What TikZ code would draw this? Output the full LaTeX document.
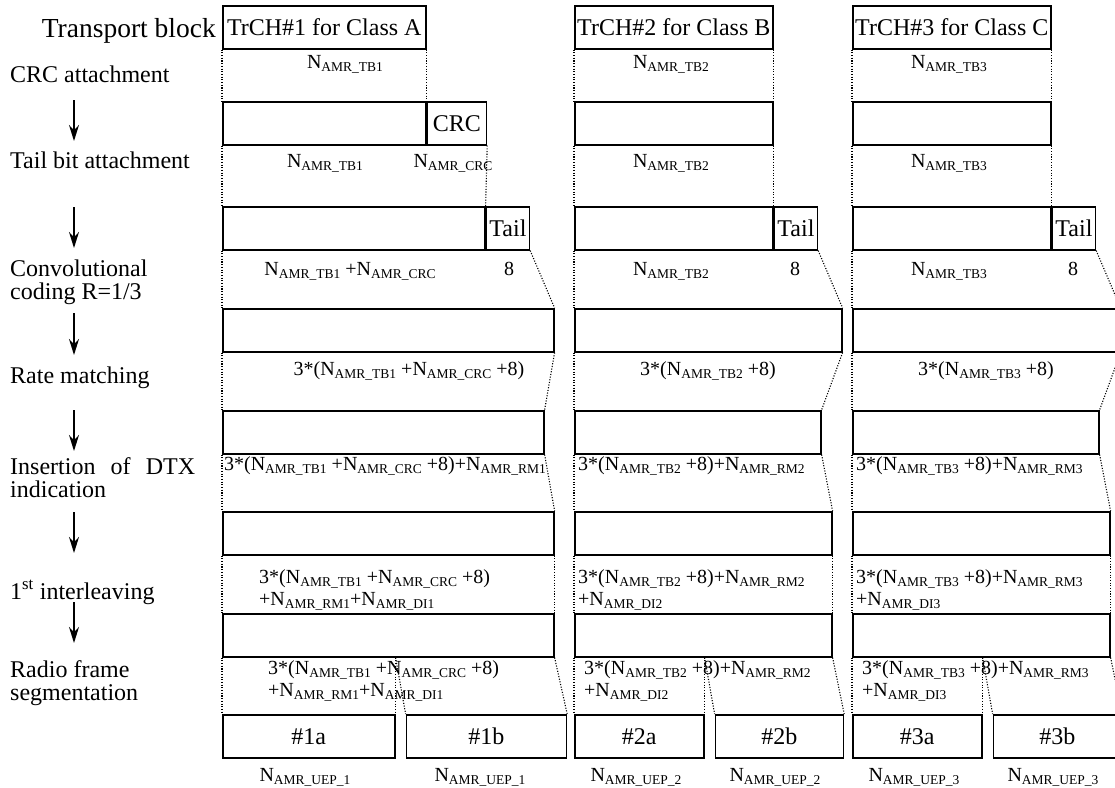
\documentclass[tikz,border=0pt]{standalone}
\usepackage{fontspec}
\setmainfont{Liberation Serif}
\usetikzlibrary{arrows.meta, positioning}

\newcommand{\stepfont}{\fontsize{24}{23}\selectfont}
\newcommand{\tbfont}{\fontsize{27.5}{30}\selectfont}
\newcommand{\labfont}{\fontsize{20}{22}\selectfont}
\newcommand{\subfont}{\fontsize{13.5}{14}\selectfont}
\newcommand{\amr}[1]{N\raisebox{-3.5pt}{\subfont AMR\_#1}}

\begin{document}
\begin{tikzpicture}[
  x=1pt, y=-1pt,
  blk/.style={draw, line width=1.6pt, minimum height=43pt, inner sep=0pt,
              anchor=north west, font=\stepfont},
  stp/.style={inner sep=0pt, anchor=base west, align=left, font=\stepfont},
  lab/.style={inner sep=0pt, anchor=base, font=\labfont},
  labl/.style={lab, anchor=base west, align=left},
  guide/.style={line width=1.1pt, dash pattern=on 1.1pt off 1.6pt},
  flow/.style={-{Stealth[length=16pt, width=10pt]}, line width=1.5pt}
]
\useasboundingbox (0,0) rectangle (1115,787);
\clip (0,0) rectangle (1115,787);

% processing steps
\node[stp, font=\tbfont, anchor=base east] (tblk) at (216,37) {Transport block};
\node[stp] (crcatt) at (10,82) {CRC attachment};
\node[stp] (tailatt) at (10,168) {Tail bit attachment};
\node[stp] (conv) at (10,299) {Convolutional\\coding R=1/3};
\node[stp] (rmatch) at (10,383) {Rate matching};
\node[stp] (dtx) at (10,497) {\makebox[185pt][s]{Insertion of DTX}\\indication};
\node[stp] (ilv) at (10,599) {1\textsuperscript{st} interleaving};
\node[stp] (seg) at (10,700) {Radio frame\\segmentation};

\coordinate (a1) at (74,100); \coordinate (b1) at (74,141);
\coordinate (a2) at (74,207); \coordinate (b2) at (74,248);
\coordinate (a3) at (74,313); \coordinate (b3) at (74,355);
\coordinate (a4) at (74,410); \coordinate (b4) at (74,451);
\coordinate (a5) at (74,512); \coordinate (b5) at (74,553);
\coordinate (a6) at (74,602); \coordinate (b6) at (74,643);
\draw[flow] (a1) -- (b1);
\draw[flow] (a2) -- (b2);
\draw[flow] (a3) -- (b3);
\draw[flow] (a4) -- (b4);
\draw[flow] (a5) -- (b5);
\draw[flow] (a6) -- (b6);

% TrCH#1, class A
\node[blk, minimum width=203pt] (tb1) at (222,5) {TrCH\#1 for Class A};
\node[blk, minimum width=203pt] (crcA1) at (222,101) {};
\node[blk, minimum width=59pt, right=0pt of crcA1] (crc1) {CRC};
\node[blk, minimum width=262pt] (tailA1) at (222,206) {};
\node[blk, minimum width=43pt, right=0pt of tailA1] (tail1) {Tail};
\node[blk, minimum width=331pt] (conv1) at (222,308) {};
\node[blk, minimum width=321pt] (rm1) at (222,410) {};
\node[blk, minimum width=331pt] (dtx1) at (222,511) {};
\node[blk, minimum width=331pt] (il1) at (222,613) {};
\node[blk, minimum width=172pt] (segA1) at (222,714) {\#1a};
\node[blk, minimum width=160pt, right=10pt of segA1] (segB1) {\#1b};

\node[lab] (n0a1) at (345,68) {\amr{TB1}};
\node[lab] (n1a1) at (325,167) {\amr{TB1}};
\node[lab] (n1b1) at (453,167) {\amr{CRC}};
\node[lab] (n2a1) at (350,275) {\amr{TB1} +\amr{CRC}};
\node[lab] (n2b1) at (509,275) {8};
\node[lab] (n3a1) at (409,375) {3*(\amr{TB1} +\amr{CRC} +8)};
\node[lab] (n4a1) at (385,470) {3*(\amr{TB1} +\amr{CRC} +8)+\amr{RM1}};
\node[labl] (n5a1) at (259,605) {3*(\amr{TB1} +\amr{CRC} +8)\\+\amr{RM1}+\amr{DI1}};
\node[labl] (n6a1) at (268,696) {3*(\amr{TB1} +\amr{CRC} +8)\\+\amr{RM1}+\amr{DI1}};
\node[lab] (n7a1) at (305,781) {\amr{UEP\_1}};
\node[lab] (n7b1) at (480,781) {\amr{UEP\_1}};

\draw[guide] (tb1.south west) -- (crcA1.north west);
\draw[guide] (tb1.south east) -- (crcA1.north east);
\draw[guide] (crcA1.south west) -- (tailA1.north west);
\draw[guide] (crc1.south east) -- (tailA1.north east);
\draw[guide] (tailA1.south west) -- (conv1.north west);
\draw[guide] (tail1.south east) -- (conv1.north east);
\draw[guide] (conv1.south west) -- (rm1.north west);
\draw[guide] (conv1.south east) -- (rm1.north east);
\draw[guide] (rm1.south west) -- (dtx1.north west);
\draw[guide] (rm1.south east) -- (dtx1.north east);
\draw[guide] (dtx1.south west) -- (il1.north west);
\draw[guide] (dtx1.south east) -- (il1.north east);
\draw[guide] (il1.south west) -- (segA1.north west);
\draw[guide] (segA1.north east |- il1.south) -- (segA1.north east);
\draw[guide] (segA1.north east |- il1.south) -- (segB1.north west);
\draw[guide] (il1.south east) -- (segB1.north east);

% TrCH#2, class B
\node[blk, minimum width=198pt] (tb2) at (574,5) {TrCH\#2 for Class B};
\node[blk, minimum width=198pt] (crcA2) at (574,101) {};
\node[blk, minimum width=198pt] (tailA2) at (574,206) {};
\node[blk, minimum width=43pt, right=0pt of tailA2] (tail2) {Tail};
\node[blk, minimum width=267pt] (conv2) at (574,308) {};
\node[blk, minimum width=246pt] (rm2) at (574,410) {};
\node[blk, minimum width=257pt] (dtx2) at (574,511) {};
\node[blk, minimum width=257pt] (il2) at (574,613) {};
\node[blk, minimum width=129pt] (segA2) at (574,714) {\#2a};
\node[blk, minimum width=128pt, right=10pt of segA2] (segB2) {\#2b};

\node[lab] (n0a2) at (671,68) {\amr{TB2}};
\node[lab] (n1a2) at (671,167) {\amr{TB2}};
\node[lab] (n2a2) at (671,275) {\amr{TB2}};
\node[lab] (n2b2) at (795,275) {8};
\node[lab] (n3a2) at (708,375) {3*(\amr{TB2} +8)};
\node[labl] (n4a2) at (578,470) {3*(\amr{TB2} +8)+\amr{RM2}};
\node[labl] (n5a2) at (578,605) {3*(\amr{TB2} +8)+\amr{RM2}\\+\amr{DI2}};
\node[labl] (n6a2) at (584,696) {3*(\amr{TB2} +8)+\amr{RM2}\\+\amr{DI2}};
\node[lab] (n7a2) at (636,781) {\amr{UEP\_2}};
\node[lab] (n7b2) at (775,781) {\amr{UEP\_2}};

\draw[guide] (tb2.south west) -- (crcA2.north west);
\draw[guide] (tb2.south east) -- (crcA2.north east);
\draw[guide] (crcA2.south west) -- (tailA2.north west);
\draw[guide] (crcA2.south east) -- (tailA2.north east);
\draw[guide] (tailA2.south west) -- (conv2.north west);
\draw[guide] (tail2.south east) -- (conv2.north east);
\draw[guide] (conv2.south west) -- (rm2.north west);
\draw[guide] (conv2.south east) -- (rm2.north east);
\draw[guide] (rm2.south west) -- (dtx2.north west);
\draw[guide] (rm2.south east) -- (dtx2.north east);
\draw[guide] (dtx2.south west) -- (il2.north west);
\draw[guide] (dtx2.south east) -- (il2.north east);
\draw[guide] (il2.south west) -- (segA2.north west);
\draw[guide] (segA2.north east |- il2.south) -- (segA2.north east);
\draw[guide] (segA2.north east |- il2.south) -- (segB2.north west);
\draw[guide] (il2.south east) -- (segB2.north east);

% TrCH#3, class C
\node[blk, minimum width=198pt] (tb3) at (852,5) {TrCH\#3 for Class C};
\node[blk, minimum width=198pt] (crcA3) at (852,101) {};
\node[blk, minimum width=198pt] (tailA3) at (852,206) {};
\node[blk, minimum width=43pt, right=0pt of tailA3] (tail3) {Tail};
\node[blk, minimum width=267pt] (conv3) at (852,308) {};
\node[blk, minimum width=246pt] (rm3) at (852,410) {};
\node[blk, minimum width=257pt] (dtx3) at (852,511) {};
\node[blk, minimum width=257pt] (il3) at (852,613) {};
\node[blk, minimum width=129pt] (segA3) at (852,714) {\#3a};
\node[blk, minimum width=128pt, right=10pt of segA3] (segB3) {\#3b};

\node[lab] (n0a3) at (949,68) {\amr{TB3}};
\node[lab] (n1a3) at (949,167) {\amr{TB3}};
\node[lab] (n2a3) at (949,275) {\amr{TB3}};
\node[lab] (n2b3) at (1073,275) {8};
\node[lab] (n3a3) at (986,375) {3*(\amr{TB3} +8)};
\node[labl] (n4a3) at (856,470) {3*(\amr{TB3} +8)+\amr{RM3}};
\node[labl] (n5a3) at (856,605) {3*(\amr{TB3} +8)+\amr{RM3}\\+\amr{DI3}};
\node[labl] (n6a3) at (862,696) {3*(\amr{TB3} +8)+\amr{RM3}\\+\amr{DI3}};
\node[lab] (n7a3) at (914,781) {\amr{UEP\_3}};
\node[lab] (n7b3) at (1053,781) {\amr{UEP\_3}};

\draw[guide] (tb3.south west) -- (crcA3.north west);
\draw[guide] (tb3.south east) -- (crcA3.north east);
\draw[guide] (crcA3.south west) -- (tailA3.north west);
\draw[guide] (crcA3.south east) -- (tailA3.north east);
\draw[guide] (tailA3.south west) -- (conv3.north west);
\draw[guide] (tail3.south east) -- (conv3.north east);
\draw[guide] (conv3.south west) -- (rm3.north west);
\draw[guide] (conv3.south east) -- (rm3.north east);
\draw[guide] (rm3.south west) -- (dtx3.north west);
\draw[guide] (rm3.south east) -- (dtx3.north east);
\draw[guide] (dtx3.south west) -- (il3.north west);
\draw[guide] (dtx3.south east) -- (il3.north east);
\draw[guide] (il3.south west) -- (segA3.north west);
\draw[guide] (segA3.north east |- il3.south) -- (segA3.north east);
\draw[guide] (segA3.north east |- il3.south) -- (segB3.north west);
\draw[guide] (il3.south east) -- (segB3.north east);
\end{tikzpicture}
\end{document}
